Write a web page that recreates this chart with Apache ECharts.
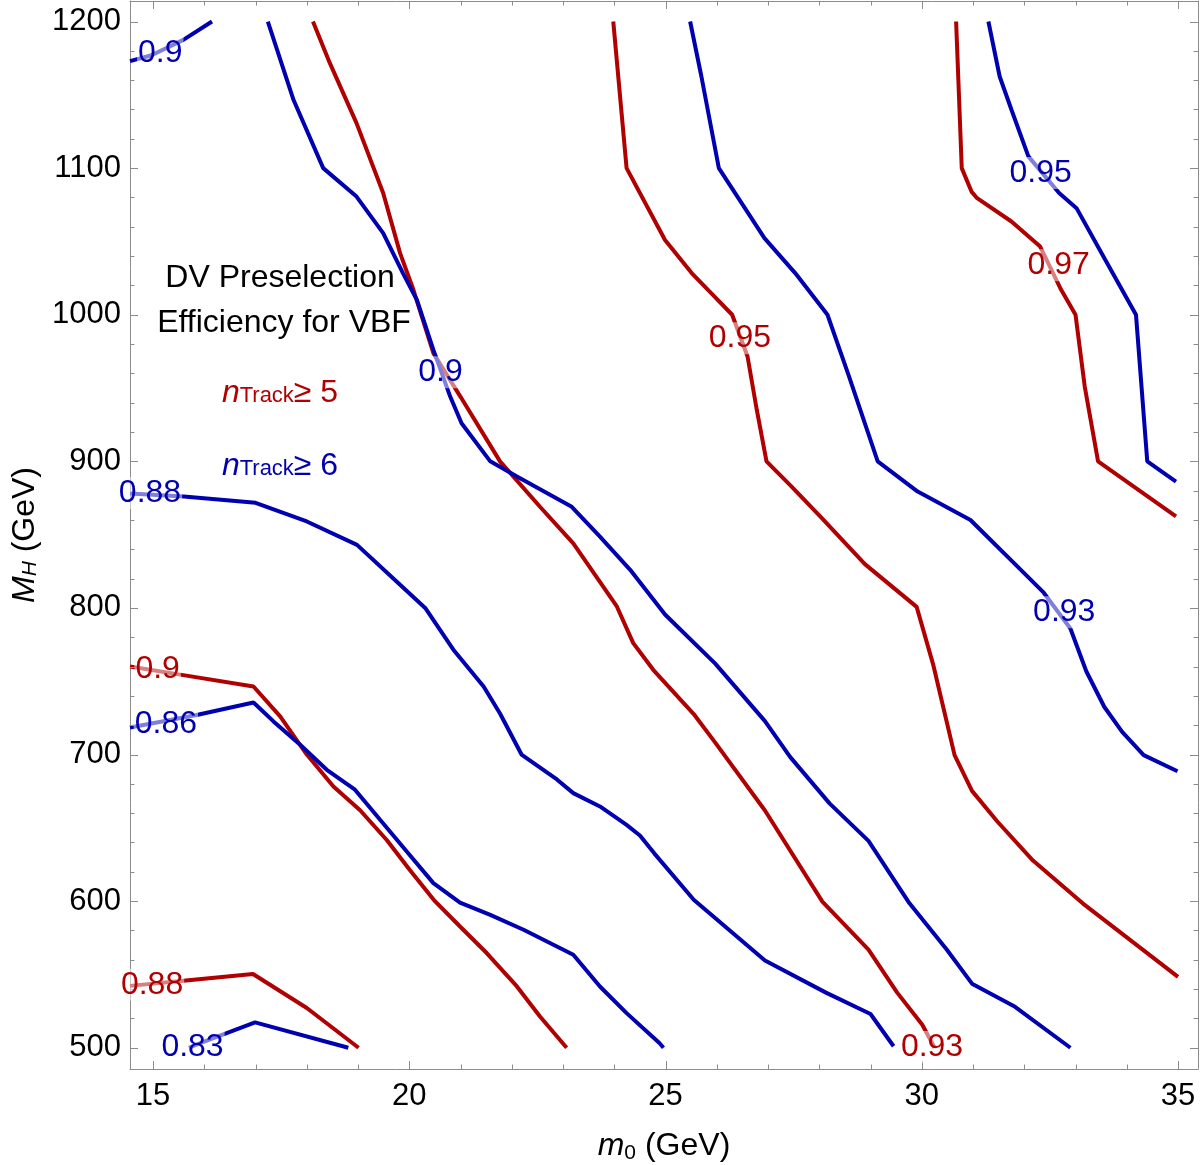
<!DOCTYPE html>
<html>
<head>
<meta charset="utf-8">
<script src="https://cdn.jsdelivr.net/npm/echarts@6/dist/echarts.min.js"></script>
<style>
html, body { margin: 0; padding: 0; background: #fff; }
#chart { width: 1200px; height: 1165px; }
</style>
</head>
<body>
<div id="chart"></div>
<script>
// axis ranges and ticks
var xMin = 14.55, xMax = 35.39
var yMin = 485.5, yMax = 1214
var xMajor = [15, 20, 25, 30, 35]
var xMinor = [15, 16, 17, 18, 19, 20, 21, 22, 23, 24, 25, 26, 27, 28, 29, 30, 31, 32, 33, 34, 35]
var yMajor = [500, 600, 700, 800, 900, 1000, 1100, 1200]
var yMinor = [500, 520, 540, 560, 580, 600, 620, 640, 660, 680, 700, 720, 740, 760, 780, 800, 820, 840, 860, 880,
	900, 920, 940, 960, 980, 1000, 1020, 1040, 1060, 1080, 1100, 1120, 1140, 1160, 1180, 1200]

// nTrack >= 5 contours (red)
var r88 = [[14.55, 542.2], [15.59, 545.7], [16.95, 550.3], [18.0, 527.1], [19.01, 500]]
var r90 = [[14.55, 760], [15.53, 754.5], [16.96, 746.4], [17.48, 726], [18.0, 700], [18.52, 678.2], [19.04, 662],
	[19.56, 641.7], [20.01, 621.2], [20.5, 600], [20.99, 582.7], [21.51, 564.6], [22.1, 541.8], [22.55, 521.3], [23.07, 500]]
var r93 = [[18.12, 1200], [18.45, 1171.6], [18.97, 1130.7], [19.49, 1083], [19.82, 1042], [20.08, 1017], [20.47, 973.8],
	[21.0, 944], [21.77, 900], [22.55, 869], [23.2, 844], [24.05, 801], [24.37, 776], [24.76, 757.8], [25.55, 727.6],
	[25.97, 708.1], [26.94, 661.8], [28.06, 599.7], [28.96, 566.9], [29.52, 537.6], [30.01, 515.7], [30.25, 500]]
var r95 = [[23.98, 1200], [24.24, 1100], [24.99, 1051], [25.51, 1028.4], [25.89, 1014.7], [26.3, 1000], [26.6, 971.5],
	[26.78, 935.2], [26.97, 900], [27.46, 882.8], [28.05, 861.3], [28.89, 829.9], [29.9, 800.7], [30.22, 761.7],
	[30.64, 699.6], [30.98, 675.2], [31.47, 654.5], [32.17, 627.7], [33.14, 598.5], [35.0, 548.3]]
var r97 = [[30.67, 1200], [30.78, 1100], [30.97, 1084], [31.08, 1079.5], [31.75, 1063.6], [32.31, 1046.5], [32.72, 1017],
	[33.0, 1000], [33.18, 951], [33.44, 900], [34.96, 862.4]]

// nTrack >= 6 contours (blue)
var b83 = [[15.7, 500], [15.92, 503.2], [16.99, 517.3], [18.81, 500]]
var b86 = [[14.55, 718.4], [15.85, 727], [16.96, 735.5], [17.35, 722.6], [17.87, 706.7], [18.39, 689.6], [18.94, 676],
	[19.43, 655.5], [19.95, 633.9], [20.47, 612.3], [20.99, 599], [21.58, 590.6], [22.23, 580.5], [23.2, 563.4],
	[23.72, 541.8], [24.24, 523.6], [24.88, 503.2], [24.96, 500]]
var b88 = [[14.55, 878], [15.6, 876], [17.0, 871.7], [18.0, 859], [18.98, 843], [19.82, 815.8], [20.31, 800],
	[20.86, 771.5], [21.45, 746.4], [21.77, 728], [22.19, 700], [22.88, 683], [23.2, 673.7], [23.72, 664.6], [24.24, 652],
	[24.5, 644.8], [24.78, 632.6], [25.55, 600.9], [26.94, 559.5], [28.13, 537.6], [29.0, 523], [29.45, 501]]
var b90 = [[17.24, 1200], [17.74, 1146.6], [18.32, 1100], [18.97, 1080.6], [19.49, 1055.7], [19.88, 1028], [20.15, 1010],
	[20.47, 976], [20.8, 944], [21.02, 926], [21.58, 900], [22.1, 889.7], [23.17, 869], [23.72, 848.7], [24.31, 826],
	[24.99, 795.5], [25.97, 762], [26.94, 722.8], [27.43, 698.4], [28.2, 666.7], [28.96, 641.1], [29.76, 598.5],
	[30.49, 566.8], [30.98, 543.7], [31.82, 527.9], [32.9, 500]]
var b90corner = [[14.55, 1173], [14.97, 1177], [15.59, 1187.5], [16.15, 1200]]
var b93 = [[25.48, 1200], [25.7, 1162.5], [26.04, 1100], [26.93, 1052.3], [27.53, 1028.4], [28.16, 1000], [28.58, 957.9],
	[29.14, 900], [29.92, 879.4], [30.95, 860], [31.82, 829.9], [32.38, 810.4], [32.9, 786], [33.21, 756.8],
	[33.56, 732.6], [33.91, 715.4], [34.33, 699.6], [34.99, 688.6]]
var b95 = [[31.3, 1200], [31.52, 1162.5], [31.75, 1139.8], [32.08, 1108], [32.68, 1083], [33.02, 1072.7], [33.58, 1037.5],
	[34.18, 1000], [34.4, 900], [34.96, 886.2]]

// contour labels: [x, y, text]
var redLabels = [[14.98, 542.9, '0.88'], [15.09, 758.2, '0.9'], [30.2, 500.5, '0.93'], [26.45, 984, '0.95'], [32.67, 1033.8, '0.97']]
var blueLabels = [[15.77, 500.5, '0.83'], [15.25, 721, '0.86'], [14.94, 878.4, '0.88'], [15.14, 1178.6, '0.9'],
	[20.61, 960.7, '0.9'], [32.78, 797, '0.93'], [32.32, 1096.6, '0.95']]

var red = '#b00000'
var blue = '#0000b0'
var frameColor = '#8c8c8c'
var font = '"Liberation Sans", Arial, sans-serif'

function contour(data, color) {
	return {
		type: 'line',
		data: data,
		xAxisIndex: 0,
		yAxisIndex: 0,
		showSymbol: false,
		symbol: 'none',
		silent: true,
		clip: true,
		lineStyle: { color: color, width: 4 },
		itemStyle: { color: color },
		z: 2
	}
}

function labels(data, color) {
	return {
		type: 'scatter',
		data: data,
		xAxisIndex: 0,
		yAxisIndex: 0,
		symbolSize: 0,
		silent: true,
		clip: false,
		z: 5,
		itemStyle: { opacity: 1, color: color },
		label: {
			show: true,
			position: 'inside',
			formatter: function (p) { return p.value[2] },
			color: color,
			opacity: 1,
			fontSize: 32,
			fontFamily: font,
			backgroundColor: 'rgba(255,255,255,0.5)',
			padding: [0, 1]
		}
	}
}

// frame ticks (inside, all four sides), drawn with the axes' scales
function tickSeries(values, major, dim) {
	var data = values.map(function (v) { return [v, major.indexOf(v) >= 0 ? 8 : 4.5] })
	return {
		type: 'custom',
		data: data,
		xAxisIndex: 0,
		yAxisIndex: 0,
		silent: true,
		clip: false,
		z: 4,
		renderItem: function (params, api) {
			var v = api.value(0), len = api.value(1)
			var cs = params.coordSys
			var st = { stroke: frameColor, lineWidth: 1 }
			if (dim == 'x') {
				var px = Math.round(api.coord([v, yMin])[0]) + 0.5
				var y0 = cs.y, y1 = cs.y + cs.height
				return { type: 'group', children: [
					{ type: 'line', shape: { x1: px, y1: y1, x2: px, y2: y1 - len }, style: st },
					{ type: 'line', shape: { x1: px, y1: y0, x2: px, y2: y0 + len }, style: st }
				] }
			}
			var py = Math.round(api.coord([xMin, v])[1]) + 0.5
			var x0 = cs.x, x1 = cs.x + cs.width
			return { type: 'group', children: [
				{ type: 'line', shape: { x1: x0, y1: py, x2: x0 + len, y2: py }, style: st },
				{ type: 'line', shape: { x1: x1, y1: py, x2: x1 - len, y2: py }, style: st }
			] }
		}
	}
}

function xAx(pos, main) {
	return {
		type: 'value', position: pos, min: xMin, max: xMax,
		axisLine: { show: true, onZero: false, lineStyle: { color: frameColor, width: 1 } },
		axisTick: { show: false },
		axisLabel: {
			show: main, customValues: xMajor, margin: 12,
			color: '#000', fontSize: 31, fontFamily: font,
			formatter: function (v) { return String(v) }
		},
		splitLine: { show: false }
	}
}

function yAx(pos, main) {
	return {
		type: 'value', position: pos, min: yMin, max: yMax,
		axisLine: { show: true, onZero: false, lineStyle: { color: frameColor, width: 1 } },
		axisTick: { show: false },
		axisLabel: {
			show: main, customValues: yMajor, margin: 9,
			color: '#000', fontSize: 31, fontFamily: font,
			formatter: function (v) { return String(v) }
		},
		splitLine: { show: false }
	}
}

var xAxes = [xAx('bottom', true), xAx('top', false)]
xAxes[0].name = '{i|m}{s|0}{t| (GeV)}'
xAxes[0].nameLocation = 'middle'
xAxes[0].nameGap = 60
xAxes[0].nameTextStyle = {
	fontFamily: font, color: '#000',
	rich: {
		i: { fontSize: 32, fontStyle: 'italic', fontFamily: font, color: '#000' },
		s: { fontSize: 21, fontFamily: font, color: '#000', padding: [14, 0, 0, 0] },
		t: { fontSize: 32, fontFamily: font, color: '#000' }
	}
}

var yAxes = [yAx('left', true), yAx('right', false)]
yAxes[0].name = '{i|M}{s|H}{t| (GeV)}'
yAxes[0].nameLocation = 'middle'
yAxes[0].nameRotate = 90
yAxes[0].nameGap = 88
yAxes[0].nameTextStyle = {
	fontFamily: font, color: '#000',
	rich: {
		i: { fontSize: 32, fontStyle: 'italic', fontFamily: font, color: '#000' },
		s: { fontSize: 21, fontStyle: 'italic', fontFamily: font, color: '#000', padding: [10, 0, 0, 0] },
		t: { fontSize: 32, fontFamily: font, color: '#000' }
	}
}

function trackText(n, color, y) {
	return {
		type: 'text', x: 280, y: y, z: 10,
		style: {
			text: '{i|n}{s|Track}{t|≥ ' + n + '}',
			align: 'center', verticalAlign: 'middle',
			rich: {
				i: { fontSize: 32, fontStyle: 'italic', fontFamily: font, fill: color },
				s: { fontSize: 22, fontFamily: font, fill: color, padding: [6, 0, 0, 0] },
				t: { fontSize: 32, fontFamily: font, fill: color }
			}
		}
	}
}

var chart = echarts.init(document.getElementById('chart'))
chart.setOption({
	animation: false,
	backgroundColor: '#fff',
	grid: { left: 130, right: 2, top: 1, bottom: 96, containLabel: false, outerBoundsMode: 'none' },
	xAxis: xAxes,
	yAxis: yAxes,
	graphic: [
		{ type: 'text', x: 280, y: 278, z: 10, style: { text: 'DV Preselection', align: 'center', verticalAlign: 'middle', font: '32px ' + font, fill: '#000' } },
		{ type: 'text', x: 284, y: 323, z: 10, style: { text: 'Efficiency for VBF', align: 'center', verticalAlign: 'middle', font: '32px ' + font, fill: '#000' } },
		trackText(5, red, 393),
		trackText(6, blue, 466)
	],
	series: [
		tickSeries(xMinor, xMajor, 'x'), tickSeries(yMinor, yMajor, 'y'),
		contour(r88, red), contour(r90, red), contour(r93, red), contour(r95, red), contour(r97, red),
		contour(b83, blue), contour(b86, blue), contour(b88, blue), contour(b90, blue), contour(b90corner, blue),
		contour(b93, blue), contour(b95, blue),
		labels(redLabels, red), labels(blueLabels, blue)
	]
})
</script>
</body>
</html>
